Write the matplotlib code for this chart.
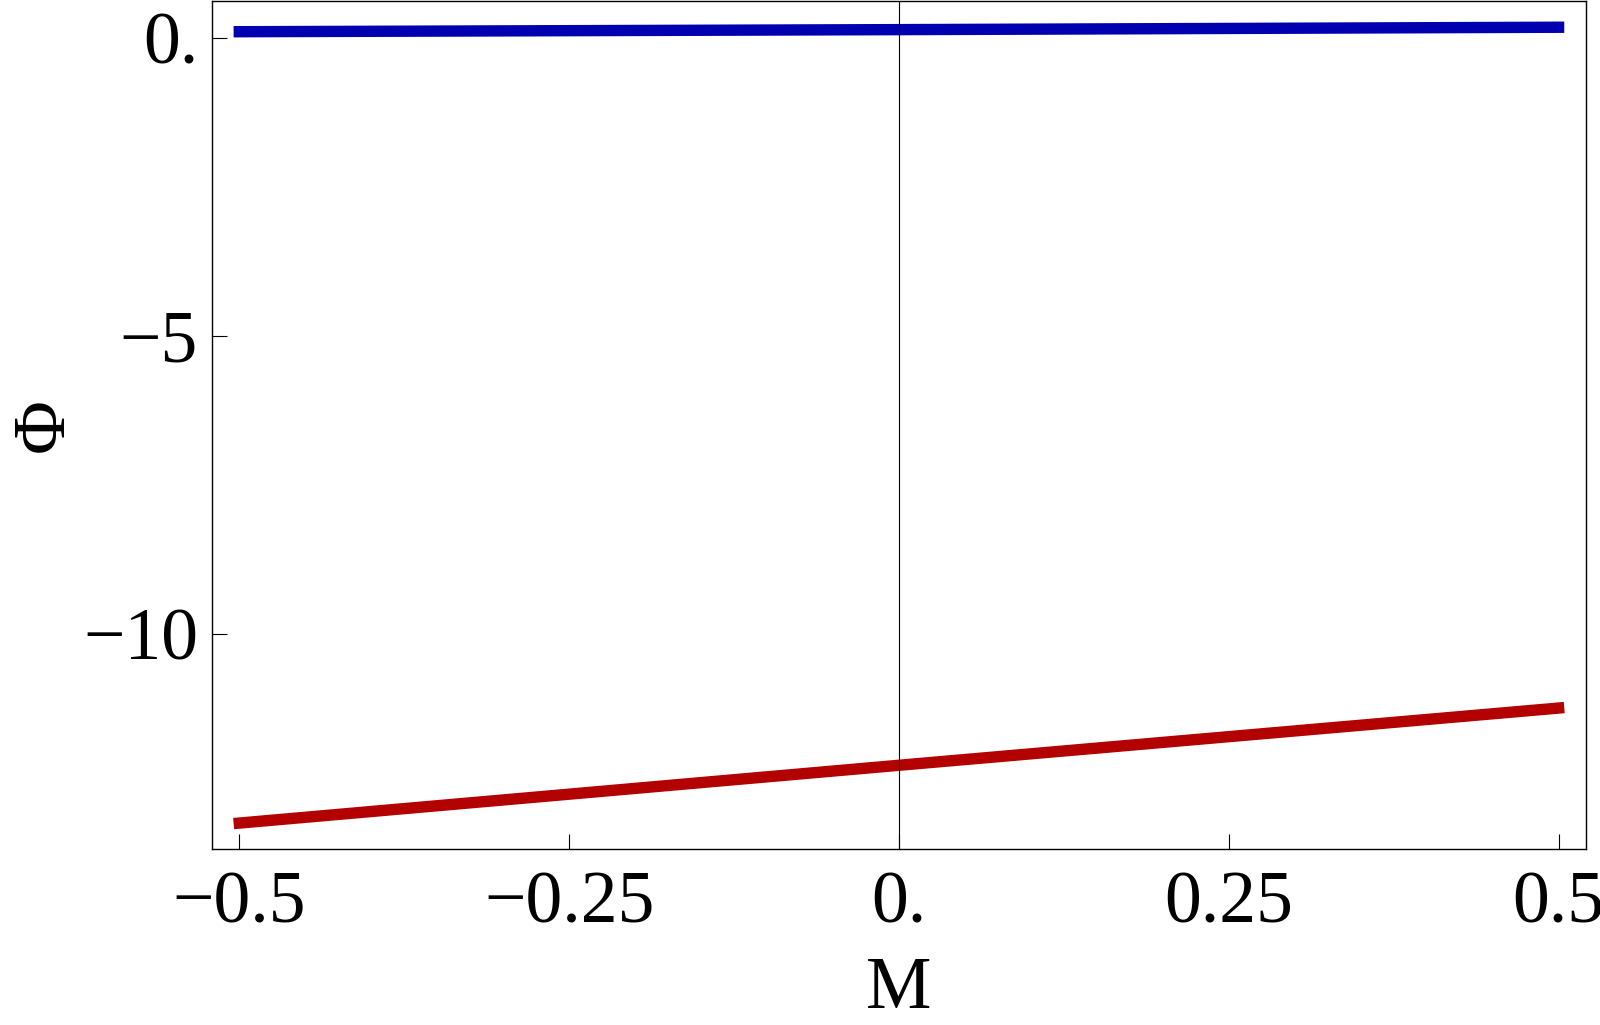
import numpy as np
import matplotlib
matplotlib.use("Agg")
import matplotlib.pyplot as plt

# values
M = [-0.5, 0.0, 0.5]
phi_blue = [0.10, 0.135, 0.175]
phi_red = [-13.18, -12.21, -11.25]

xticks = [-0.5, -0.25, 0.0, 0.25, 0.5]
xticklabels = ["\u22120.5", "\u22120.25", "0.", "0.25", "0.5"]
yticks = [0, -5, -10]
yticklabels = ["0.", "\u22125", "\u221210"]

plt.rcParams['font.family'] = ['Liberation Serif', 'DejaVu Serif']

fig = plt.figure(figsize=(16, 10.25), dpi=100)
ax = fig.add_axes([0.1325, 0.172, 0.8585, 0.827])

ax.plot(M, phi_blue, color='#0000b0', lw=8.2, solid_capstyle='projecting')
ax.plot(M, phi_red, color='#b30000', lw=8.2, solid_capstyle='projecting')
ax.axvline(0, color='black', lw=0.8)

ax.set_xlim(-0.5207, 0.5205)
ax.set_ylim(-13.61, 0.615)

ax.set_xticks(xticks)
ax.set_xticklabels(xticklabels)
ax.set_yticks(yticks)
ax.set_yticklabels(yticklabels)
ax.tick_params(direction='in', length=11, width=0.8, labelsize=53, top=False, right=False)
ax.tick_params(axis='x', pad=16)
ax.tick_params(axis='y', pad=10)
for s in ax.spines.values():
    s.set_linewidth(1.0)

ax.set_xlabel("M", fontsize=53, labelpad=13)
ax.set_ylabel("\u03a6", fontsize=53, labelpad=3)

fig.savefig("out.png", dpi=100)
